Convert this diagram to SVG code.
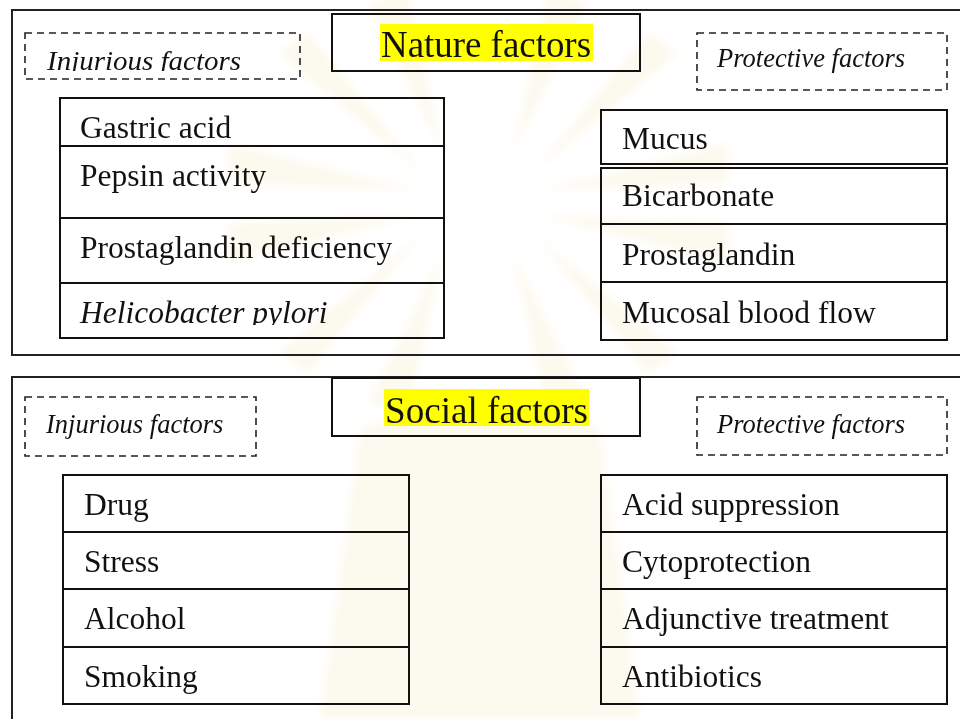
<svg xmlns="http://www.w3.org/2000/svg" width="960" height="719" viewBox="0 0 960 719">
<style>
.outer{fill:none;stroke:#222;stroke-width:2}
.box{fill:none;stroke:#111;stroke-width:2}
.dash{fill:none;stroke:#222;stroke-width:1.6;stroke-dasharray:7 5}
text{font-family:'Liberation Serif','Times New Roman',Times,serif;fill:#111}
.t{font-size:31.5px}
.it{font-size:26.5px;font-style:italic}
.title{font-size:37.5px}
.hl{fill:#ffff00}
.ray{fill:#f8efd4;opacity:0.4}
</style>
<defs>
<clipPath id="clipInj"><rect x="25" y="33" width="275" height="38"/></clipPath>
<clipPath id="clipHel"><rect x="60" y="284" width="384" height="41"/></clipPath>
<filter id="soft" x="-20%" y="-20%" width="140%" height="140%"><feGaussianBlur stdDeviation="4"/></filter>
</defs>
<rect x="0" y="0" width="960" height="719" fill="#ffffff"/>
<g id="watermark" filter="url(#soft)">
<g transform="translate(478,203)">
<path class="ray" d="M-60,-12 L-250,-60 L-250,-20 Z"/>
<path class="ray" d="M-55,-30 L-200,-150 L-170,-170 Z"/>
<path class="ray" d="M-35,-50 L-110,-200 L-70,-210 Z"/>
<path class="ray" d="M60,-12 L250,-60 L250,-20 Z"/>
<path class="ray" d="M55,-30 L200,-150 L170,-170 Z"/>
<path class="ray" d="M35,-50 L110,-200 L70,-210 Z"/>
<path class="ray" d="M60,12 L250,60 L250,20 Z"/>
<path class="ray" d="M55,30 L200,150 L170,170 Z"/>
<path class="ray" d="M-60,12 L-250,60 L-250,20 Z"/>
<path class="ray" d="M-55,30 L-200,150 L-170,170 Z"/>
<path class="ray" d="M-35,50 L-110,200 L-70,210 Z"/>
<path class="ray" d="M35,50 L110,200 L70,210 Z"/>
</g>
<path class="ray" d="M360,430 Q480,380 600,430 L640,719 L320,719 Z" opacity="0.25"/>
</g>
<g id="nature-panel">
<rect class="outer" x="12" y="10" width="960" height="345"/>
</g>
<g id="nature-title">
<rect class="box" x="332" y="14" width="308" height="57"/>
<rect class="hl" x="380" y="24" width="213" height="37"/>
<text class="title" x="381" y="57" textLength="210" lengthAdjust="spacingAndGlyphs">Nature factors</text>
</g>
<g id="nature-injurious-label">
<rect class="dash" x="25" y="33" width="275" height="46"/>
<text class="it" x="47" y="70" clip-path="url(#clipInj)" textLength="194" lengthAdjust="spacingAndGlyphs">Injurious factors</text>
</g>
<g id="nature-protective-label">
<rect class="dash" x="697" y="33" width="250" height="57"/>
<text class="it" x="717" y="67">Protective factors</text>
</g>
<g id="nature-injurious-list">
<rect class="box" x="60" y="98" width="384" height="240"/>
<line class="box" x1="60" y1="146" x2="444" y2="146"/>
<line class="box" x1="60" y1="218" x2="444" y2="218"/>
<line class="box" x1="60" y1="283" x2="444" y2="283"/>
<text class="t" x="80" y="138">Gastric acid</text>
<text class="t" x="80" y="186">Pepsin activity</text>
<text class="t" x="80" y="258">Prostaglandin deficiency</text>
<text class="t" x="80" y="323" font-style="italic" clip-path="url(#clipHel)">Helicobacter pylori</text>
</g>
<g id="nature-protective-list">
<rect class="box" x="601" y="110" width="346" height="54"/>
<rect class="box" x="601" y="168" width="346" height="172"/>
<line class="box" x1="601" y1="224" x2="947" y2="224"/>
<line class="box" x1="601" y1="282" x2="947" y2="282"/>
<text class="t" x="622" y="149">Mucus</text>
<text class="t" x="622" y="206">Bicarbonate</text>
<text class="t" x="622" y="265">Prostaglandin</text>
<text class="t" x="622" y="323">Mucosal blood flow</text>
</g>
<g id="social-panel">
<rect class="outer" x="12" y="377" width="960" height="360"/>
</g>
<g id="social-title">
<rect class="box" x="332" y="378" width="308" height="58"/>
<rect class="hl" x="384" y="389" width="205" height="37"/>
<text class="title" x="385" y="423" textLength="203" lengthAdjust="spacingAndGlyphs">Social factors</text>
</g>
<g id="social-injurious-label">
<rect class="dash" x="25" y="397" width="231" height="59"/>
<text class="it" x="46" y="433">Injurious factors</text>
</g>
<g id="social-protective-label">
<rect class="dash" x="697" y="397" width="250" height="58"/>
<text class="it" x="717" y="433">Protective factors</text>
</g>
<g id="social-injurious-list">
<rect class="box" x="63" y="475" width="346" height="229"/>
<line class="box" x1="63" y1="532" x2="409" y2="532"/>
<line class="box" x1="63" y1="589" x2="409" y2="589"/>
<line class="box" x1="63" y1="647" x2="409" y2="647"/>
<text class="t" x="84" y="515">Drug</text>
<text class="t" x="84" y="572">Stress</text>
<text class="t" x="84" y="629">Alcohol</text>
<text class="t" x="84" y="687">Smoking</text>
</g>
<g id="social-protective-list">
<rect class="box" x="601" y="475" width="346" height="229"/>
<line class="box" x1="601" y1="532" x2="947" y2="532"/>
<line class="box" x1="601" y1="589" x2="947" y2="589"/>
<line class="box" x1="601" y1="647" x2="947" y2="647"/>
<text class="t" x="622" y="515">Acid suppression</text>
<text class="t" x="622" y="572">Cytoprotection</text>
<text class="t" x="622" y="629">Adjunctive treatment</text>
<text class="t" x="622" y="687">Antibiotics</text>
</g>
<g id="connectors"></g>
</svg>
